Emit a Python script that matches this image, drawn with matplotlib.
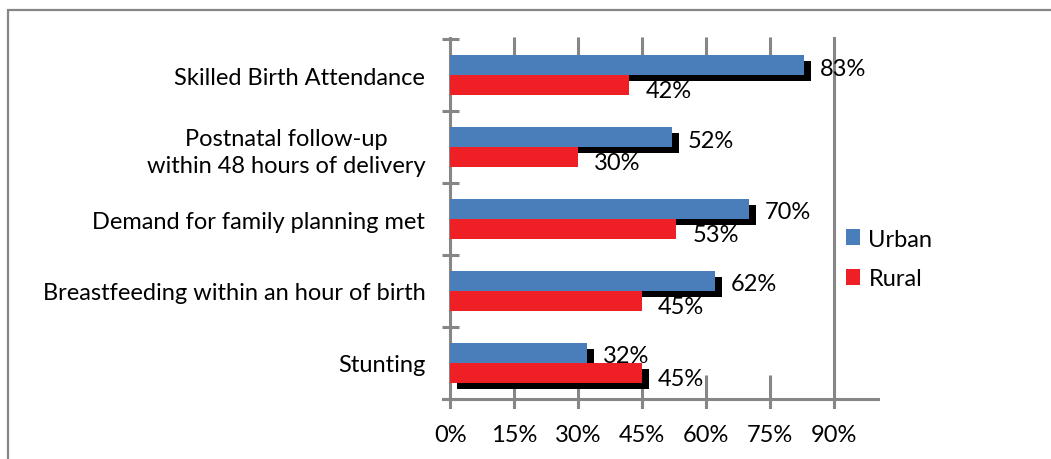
import matplotlib
matplotlib.use("Agg")
import matplotlib.pyplot as plt
from matplotlib.patches import Rectangle
from matplotlib.transforms import ScaledTranslation

# data (bottom to top, as drawn)
categories = ["Stunting",
              "Breastfeeding within an hour of birth",
              "Demand for family planning met",
              "Postnatal follow-up\nwithin 48 hours of delivery",
              "Skilled Birth Attendance"]
urban = [0.32, 0.62, 0.70, 0.52, 0.83]
rural = [0.45, 0.45, 0.53, 0.30, 0.42]
urban_labels = ["32%", "62%", "70%", "52%", "83%"]
rural_labels = ["45%", "45%", "53%", "30%", "42%"]
rural_shadow = [True, False, False, False, False]
xticks = [0, 0.15, 0.30, 0.45, 0.60, 0.75, 0.90]
xtick_labels = ["0%", "15%", "30%", "45%", "60%", "75%", "90%"]

BLUE = "#4a7ebb"
RED = "#ee1f25"
GRAY = "#868686"

plt.rcParams['font.family'] = ['Lato', 'DejaVu Sans']
FS = 17

W, H = 1051, 460
fig = plt.figure(figsize=(W / 100, H / 100), dpi=100)
ax = fig.add_axes([442 / W, (H - 410) / H, (880 - 442) / W, (410 - 38) / H])

# limits chosen so 0..90% maps onto the reference pixels
ax.set_xlim(-0.0193, 1.008)
ax.set_ylim(-0.639, 4.528)
for s in ax.spines.values():
    s.set_visible(False)

ypos = list(range(len(categories)))
h = 0.278
yu = [y + h / 2 for y in ypos]
yr = [y - h / 2 for y in ypos]

# black drop shadows (offset right/down)
shadow = ax.transData + ScaledTranslation(0.07, -0.06, fig.dpi_scale_trans)
ax.barh(yu, urban, height=h, color="black", transform=shadow, zorder=2)
ax.barh([y for y, f in zip(yr, rural_shadow) if f],
        [v for v, f in zip(rural, rural_shadow) if f],
        height=h, color="black", transform=shadow, zorder=2)

ax.barh(yr, rural, height=h, color=RED, zorder=3, label="Rural")
ax.barh(yu, urban, height=h, color=BLUE, zorder=4, label="Urban")

for y, v, t in zip(yu, urban, urban_labels):
    ax.annotate(t, (v, y), xytext=(16, -3), textcoords="offset pixels",
                ha="left", va="center", fontsize=FS, zorder=5)
for y, v, t in zip(yr, rural, rural_labels):
    ax.annotate(t, (v, y), xytext=(16, -5), textcoords="offset pixels",
                ha="left", va="center", fontsize=FS, zorder=5)

# axis lines and tick marks
lw = 2.2
ax.axvline(0, color=GRAY, lw=lw, zorder=1)
ax.axvline(0.90, color=GRAY, lw=lw, zorder=1)
ax.axhline(-0.5, xmin=0, xmax=1, color=GRAY, lw=lw, zorder=1)
ax.vlines(xticks[1:-1], -0.639, -0.167, color=GRAY, lw=lw, zorder=1)
ax.vlines(xticks[1:-1], 4.264, 4.528, color=GRAY, lw=lw, zorder=1)
bounds = [y + 0.5 for y in range(-1, len(categories))]
ax.hlines(bounds, -0.0193, 0.0215, color=GRAY, lw=lw, zorder=1)

ax.set_xticks(xticks)
ax.set_xticklabels(xtick_labels, fontsize=FS)
ax.set_yticks(ypos)
ax.set_yticklabels(categories, fontsize=FS, multialignment="center",
                   linespacing=1.35)
ax.tick_params(axis="x", length=0, pad=11)
ax.tick_params(axis="y", length=0, pad=12)

handles, labels = ax.get_legend_handles_labels()
fig.legend(handles[::-1], labels[::-1], loc="center left",
           bbox_to_anchor=(846 / W, (H - 260) / H), frameon=False,
           fontsize=FS, handlelength=0.6, handleheight=0.68,
           handletextpad=0.35, labelspacing=0.8,
           borderpad=0, borderaxespad=0)

# outer chart frame (runs off the right and bottom edges)
fig.add_artist(Rectangle((8 / W, -0.1), 1.2, (H - 11) / H + 0.1,
                         transform=fig.transFigure, fill=False,
                         edgecolor=GRAY, lw=1.6))

fig.savefig("out.png", dpi=100, facecolor="white")
